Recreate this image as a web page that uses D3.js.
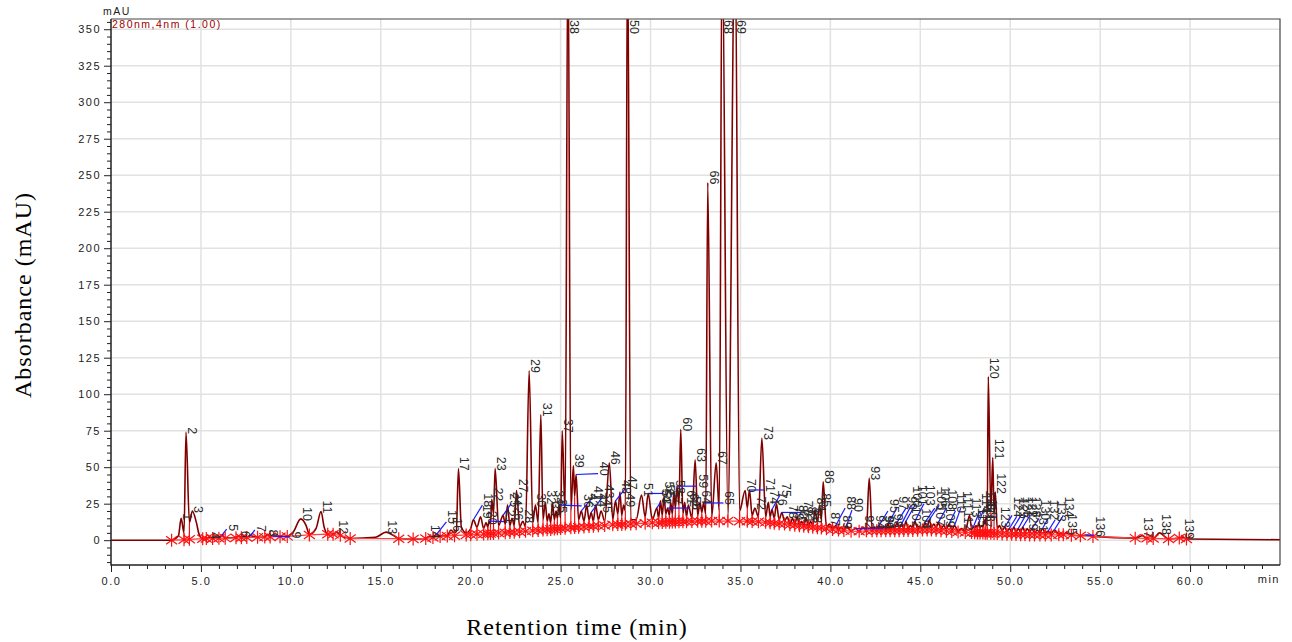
<!DOCTYPE html>
<html><head><meta charset="utf-8">
<script src="https://cdn.jsdelivr.net/npm/d3@7/dist/d3.min.js"></script>
<style>
body{margin:0;background:#fff}
svg{display:block}
.tick text{font-family:"Liberation Sans",Arial,sans-serif;font-size:11px;letter-spacing:1.5px;fill:#222}
</style>
</head><body>
<svg id="c" width="1292" height="642"></svg>
<script>
// ---- data ----
const peakTime = [3.90,4.17,4.52,5.45,6.17,7.10,7.75,8.70,9.00,10.55,
11.68,12.55,15.30,17.70,18.10,18.90,19.32,20.15,20.55,20.85,
21.02,21.17,21.36,21.80,22.05,22.30,22.55,22.90,23.25,23.60,
23.90,24.15,24.35,24.55,24.75,24.90,25.09,25.41,25.71,25.86,
26.15,26.45,26.70,26.95,27.25,27.71,28.05,28.30,28.50,28.72,
29.50,29.87,30.35,30.55,30.75,30.95,31.12,31.30,31.47,31.68,
31.90,32.10,32.48,32.75,32.95,33.18,33.65,33.98,34.70,35.26,
35.50,35.80,36.19,36.55,36.75,37.00,37.30,37.60,37.90,38.15,
38.40,38.65,38.90,39.15,39.40,39.60,39.95,40.30,40.60,40.90,
41.40,41.80,42.16,42.45,42.70,42.95,43.20,43.45,43.70,43.95,
44.20,44.45,44.70,45.00,45.25,45.50,45.75,46.00,46.30,46.60,
46.90,47.30,47.74,47.95,48.10,48.25,48.40,48.55,48.66,48.78,
49.03,49.17,49.40,49.70,49.95,50.20,50.45,50.70,50.95,51.20,
51.50,51.80,52.10,52.45,53.10,54.20,57.35,58.30,59.60];
const peakHeight = [15,74,20,2,3.5,3,3,4,2.8,14.6,
19.6,5.5,5.5,2.5,4,7,49,14,16,12,
13,28,49,17,24,15,34,13,116,24,
86,26,18,26,20,24,75,420,51,45,
20,24,19,24,20,53,27,33,24,420,
31,32,22,27,30,22,26,33,37,76,
26,24,55,26,25.5,245,53,420,420,34,
34.4,22,70,26,21,25,19,16,15,16,
13,15,13,21,24,40,11,10,9,10,
8,9,42.5,9,10,9,11,10,12,11,
13,10,13,9,12,14,11,12,10,11,
10,8,17,9,10,12,10,14,16,112,
56.6,33,10,9,8,9,8,9,8,8,
7,8,6,7,5,3.5,3,5,2];

// peak start/end marks: time, trace level, baseline level
const markerTime = [3.37,4.06,4.36,5.10,5.30,5.65,6.00,6.35,6.95,7.25,7.55,8.15,8.55,8.85,9.40,9.80,
11.03,12.05,12.35,12.75,13.30,16.00,16.80,17.50,17.90,18.30,18.70,19.10,19.75,20.00,20.35,20.72,20.95,
21.10,21.27,21.55,21.92,22.18,22.42,22.72,23.05,23.45,23.75,24.02,24.25,24.45,24.65,24.82,25.00,25.25,
25.57,25.78,26.00,26.30,26.58,26.82,27.10,27.45,27.90,28.18,28.40,28.60,28.90,29.20,29.70,30.10,30.45,
30.65,30.85,31.05,31.21,31.38,31.58,31.80,32.00,32.30,32.62,32.85,33.07,33.40,33.82,34.30,34.95,35.38,
35.65,36.00,36.40,36.65,36.88,37.15,37.45,37.75,38.02,38.28,38.52,38.78,39.02,39.28,39.50,39.78,40.12,
40.45,40.75,41.15,41.60,42.00,42.32,42.58,42.82,43.08,43.32,43.58,43.82,44.08,44.32,44.58,44.85,45.12,
45.38,45.62,45.88,46.15,46.45,46.75,47.10,47.50,47.85,48.02,48.18,48.32,48.48,48.61,48.72,48.92,49.10,
49.28,49.55,49.82,50.08,50.32,50.58,50.82,51.08,51.35,51.65,51.95,52.28,52.70,52.95,53.40,53.90,54.60,
56.95,57.60,57.95,58.80,59.40,59.80];
const markerLevel = [0,5,12,1.2,1.2,1.3,1.4,1.6,1.8,1.9,1.9,2.0,2.2,2.4,2.5,2.6,
4.0,4.2,4.0,3.5,1.2,1.2,0.8,1.2,2.0,2.8,3.0,5,5,8,9,8,9,
11,18,10,11,10,10,9,9,12,12,14,13,12,14,15,15,18,
20,30,14,13,14,13,14,13,14,18,17,20,14,14,16,14,15,
17,18,17,18,22,24,18,16,15,17,19,18,16,20,16,20,22,
17,16,16,16,15,14,13,11,11,10,10,9.5,10,12,14,9,7.5,
7,6.8,6.3,6.2,6.5,7,7.5,7.5,7.5,7.6,8,8,8,8,8,8,8,
9,9,8.5,8,7.5,7,6.5,6,8,8,8.5,8.5,9,11,13,20,18,
8,6.5,6,5.8,5.5,5.5,5.3,5.2,5,5,4.8,4.6,4.3,4,3.5,3,2.6,
1.4,1.3,1.2,0.8,1.5,0.8];
const markerBase = [0,0.3,0.6,1.0,1.1,1.2,1.3,1.4,1.6,1.7,1.8,2.0,2.1,2.2,2.4,2.6,
3.6,4.1,4.0,3.3,1.2,1.0,0.8,1.2,1.8,2.6,2.9,3.1,3.6,3.8,4.0,4.2,4.4,
4.5,4.6,4.9,5.1,5.3,5.5,5.8,6.1,6.4,6.7,7.0,7.2,7.4,7.6,7.8,8.0,8.2,
8.5,8.7,8.9,9.1,9.3,9.6,9.8,10.1,10.5,10.7,10.8,11.0,11.1,11.3,11.6,11.9,12.0,
12.1,12.2,12.3,12.4,12.5,12.6,12.6,12.7,12.8,12.9,13.0,13.0,13.1,13.1,13.1,13.0,12.9,
12.8,12.6,12.2,11.9,11.6,11.3,11.0,10.6,10.2,9.8,9.5,9.2,8.9,8.6,8.3,7.9,7.3,
6.9,6.6,6.2,6.1,6.4,6.5,6.5,6.5,6.5,6.5,6.5,6.5,6.6,6.6,6.7,6.8,6.9,
7.0,7.0,6.8,6.5,6.2,5.9,5.6,5.3,5.2,5.1,5.0,4.9,4.9,4.8,4.8,4.7,4.6,
4.5,4.3,4.1,4.0,3.9,3.8,3.7,3.6,3.6,3.6,3.6,3.6,3.7,3.7,3.4,3.0,2.6,
1.4,1.3,1.2,0.8,1.5,0.8];

// other points on the trace (start, shoulders, broad humps, end)
const shapeTime  = [0,3.75,4.75,4.90,10.15,10.85,11.40,11.85,14.70,15.80,19.20,19.48,65];
const shapeLevel = [0,3,12,4,6,10,8,9,2,2.5,6,9,0.3];

// peaks whose numbers are drawn away from the apex, with a leader line
const leaderPeak  = [5,7,9,15,18,21,24,36,40,41,43,47,52,53,56,59,65,71,75,77,88,90,91,
95,97,99,100,101,103,105,106,108,110,111,114,116,124,125,126,127,128,130,132,133,134,136];
const leaderTime  = [6.43,8.0,9.95,18.65,20.65,21.85,22.25,26.17,27.08,26.75,27.35,28.64,30.7,30.55,32.2,32.58,34.05,36.33,37.2,38.4,40.82,41.2,42.95,
43.2,43.7,44.2,44.5,44.75,45.2,45.8,46.05,46.45,46.95,47.25,48.3,48.55,50.1,50.35,50.6,50.85,51.1,51.6,52.1,52.5,52.95,54.65];
const leaderLevel = [7.5,7,2.5,12.5,24,12.7,25,23.5,45.6,29,30,36,32,26,22,37,25.5,34.4,31,19,22,20.7,8.2,
20,22,22,24,25,25,22,24,22,20,22,20,22,17,16,17,17,17,15,15,14,17,3.5];

const xMajorTicks = [0,5,10,15,20,25,30,35,40,45,50,55,60];
const yMajorTicks = [0,25,50,75,100,125,150,175,200,225,250,275,300,325,350];

// ---- drawing ----
const svg = d3.select("#c");
const L = 111, R = 1280, T = 19, B = 565;
const x = d3.scaleLinear().domain([0,65]).range([L,R]);
const y = d3.scaleLinear().domain([-17,357]).range([B,T]);

svg.append("defs").append("clipPath").attr("id","plot")
  .append("rect").attr("x",L).attr("y",T).attr("width",R-L).attr("height",B-T);

// grid
const grid = svg.append("g");
grid.selectAll("line.v").data(xMajorTicks.filter(d=>d>0)).join("line")
  .attr("x1",d=>x(d)).attr("x2",d=>x(d)).attr("y1",T).attr("y2",B)
  .attr("stroke","#e2e2e2").attr("stroke-width",1.5);
grid.selectAll("line.h").data(yMajorTicks).join("line")
  .attr("x1",L).attr("x2",R).attr("y1",d=>y(d)).attr("y2",d=>y(d))
  .attr("stroke","#e2e2e2").attr("stroke-width",1.5);

const plot = svg.append("g").attr("clip-path","url(#plot)");

// trace
const pts = [];
peakTime.forEach((t,i)=>pts.push([t,peakHeight[i]]));
markerTime.forEach((t,i)=>pts.push([t,markerLevel[i]]));
shapeTime.forEach((t,i)=>pts.push([t,shapeLevel[i]]));
pts.sort((a,b)=>a[0]-b[0]);
plot.append("path").datum(pts)
  .attr("d",d3.line().x(d=>x(d[0])).y(d=>y(d[1])).curve(d3.curveMonotoneX))
  .attr("fill","none").attr("stroke","#800000").attr("stroke-width",1.6);

// baseline through the marks
const mk = markerTime.map((t,i)=>({t,l:markerLevel[i],b:markerBase[i]}));
plot.append("path").datum(mk)
  .attr("d",d3.line().x(d=>x(d.t)).y(d=>y(d.b)))
  .attr("fill","none").attr("stroke","#ff4040").attr("stroke-width",1.3);
// drop lines
plot.selectAll("line.drop").data(mk).join("line")
  .attr("x1",d=>x(d.t)).attr("x2",d=>x(d.t)).attr("y1",d=>y(d.b)).attr("y2",d=>y(d.l))
  .attr("stroke","#ff0000").attr("stroke-width",1.1);
// asterisk marks
plot.selectAll("path.mk").data(mk).join("path")
  .attr("d",d=>{const cx=x(d.t), cy=y(d.b);
     return `M${cx},${cy-6.5}V${cy+6.5}M${cx-5.5},${cy-4}L${cx+5.5},${cy+4}M${cx-5.5},${cy+4}L${cx+5.5},${cy-4}`;})
  .attr("fill","none").attr("stroke","#ff1010").attr("stroke-width",1.2);

// leader lines
const leaders = leaderPeak.map((p,i)=>({p,t:leaderTime[i],v:leaderLevel[i]}));
plot.selectAll("line.ld").data(leaders).join("line")
  .attr("x1",d=>x(peakTime[d.p-1])).attr("y1",d=>y(Math.min(peakHeight[d.p-1],357)))
  .attr("x2",d=>x(d.t)).attr("y2",d=>y(d.v))
  .attr("stroke","#1a1aff").attr("stroke-width",1.2);

// peak numbers
const labels = peakTime.map((t,i)=>{
  const n=i+1; const li=leaderPeak.indexOf(n);
  if(li>=0) return {n, t:leaderTime[li], v:leaderLevel[li], top:false};
  return {n, t, v:peakHeight[i], top:peakHeight[i]>357};
});
svg.append("g").selectAll("text").data(labels).join("text")
  .attr("transform",d=>d.top ? `translate(${x(d.t)+2},${T+1}) rotate(90)`
                             : `translate(${x(d.t)+2},${y(d.v)+2}) rotate(90)`)
  .attr("text-anchor",d=>d.top?"start":"end")
  .attr("font-family",'"Liberation Sans Narrow","Arial Narrow","Liberation Sans",sans-serif')
  .attr("font-size",12.5).attr("fill","#2a2a2a")
  .text(d=>d.n);

// axes
const yAxis = svg.append("g").attr("transform",`translate(${L},0)`)
  .call(d3.axisLeft(y).tickValues(yMajorTicks).tickSize(7).tickPadding(3).tickFormat(d3.format("d")));
yAxis.select(".domain").remove();
const yMinor = d3.range(-15,357,5).filter(d=>d%25!==0);
svg.append("g").attr("transform",`translate(${L},0)`)
  .call(d3.axisLeft(y).tickValues(yMinor).tickSize(4).tickFormat(""))
  .select(".domain").remove();

const xAxis = svg.append("g").attr("transform",`translate(0,${B})`)
  .call(d3.axisBottom(x).tickValues(xMajorTicks).tickSize(7).tickPadding(5).tickFormat(d3.format(".1f")));
xAxis.select(".domain").remove();
const xMinor = d3.range(0,66,1).filter(d=>d%5!==0);
svg.append("g").attr("transform",`translate(0,${B})`)
  .call(d3.axisBottom(x).tickValues(xMinor).tickSize(4).tickFormat(""))
  .select(".domain").remove();
svg.selectAll(".tick line").attr("stroke","#222");

// frame
svg.append("path").attr("d",`M${L},${T}H${R}V${B}`).attr("fill","none").attr("stroke","#444").attr("stroke-width",1.2);
svg.append("path").attr("d",`M${L},${T}V${B}H${R}`).attr("fill","none").attr("stroke","#222").attr("stroke-width",1.5);

// texts
svg.append("text").attr("x",R).attr("y",B+18).attr("text-anchor","end")
  .attr("font-family","Liberation Sans, Arial, sans-serif").attr("font-size",11).attr("letter-spacing","1.5px").attr("fill","#222").text("min");
svg.append("text").attr("x",103).attr("y",15)
  .attr("font-family","Liberation Sans, Arial, sans-serif").attr("font-size",10.5).attr("letter-spacing","1.5px").attr("fill","#222").text("mAU");
svg.append("text").attr("x",112).attr("y",27.5)
  .attr("font-family","Liberation Sans, Arial, sans-serif").attr("font-size",10.5).attr("letter-spacing","1.5px").attr("fill","#a00000").text("280nm,4nm (1.00)");
svg.append("text").attr("transform","translate(31,295) rotate(-90)").attr("text-anchor","middle")
  .attr("font-family","Liberation Serif, Times New Roman, serif").attr("font-size",24).attr("letter-spacing","1px").attr("fill","#000")
  .text("Absorbance (mAU)");
svg.append("text").attr("x",577).attr("y",635).attr("text-anchor","middle")
  .attr("font-family","Liberation Serif, Times New Roman, serif").attr("font-size",24).attr("letter-spacing","1px").attr("fill","#000")
  .text("Retention time (min)");
</script>
</body></html>
